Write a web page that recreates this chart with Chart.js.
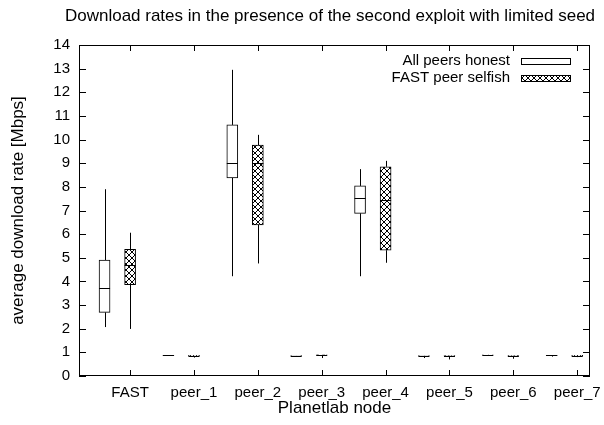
<!DOCTYPE html>
<html>
<head>
<meta charset="utf-8">
<script src="https://cdn.jsdelivr.net/npm/chart.js@4.4.1/dist/chart.umd.min.js"></script>
<style>
body { margin: 0; background: white; }
</style>
</head>
<body>
<canvas id="chart" width="604" height="425"></canvas>
<script>
// nodes on the x axis
const nodes = ['FAST', 'peer_1', 'peer_2', 'peer_3', 'peer_4', 'peer_5', 'peer_6', 'peer_7']

// all peers honest (Mbps)
const honestMin = [2.07, 0.85, 4.22, 0.84, 4.22, 0.76, 0.89, 0.82]
const honestQ1  = [2.69, 0.86, 8.38, 0.85, 6.88, 0.85, 0.89, 0.86]
const honestMed = [3.72, 0.87, 9.00, 0.85, 7.53, 0.86, 0.90, 0.87]
const honestQ3  = [4.90, 0.87, 10.62, 0.86, 8.04, 0.86, 0.90, 0.87]
const honestMax = [7.90, 0.88, 12.95, 0.86, 8.75, 0.87, 0.91, 0.88]

// FAST peer selfish (Mbps)
const selfishMin = [1.99, 0.78, 4.76, 0.76, 4.79, 0.70, 0.73, 0.80]
const selfishQ1  = [3.86, 0.85, 6.39, 0.89, 5.32, 0.85, 0.85, 0.85]
const selfishMed = [4.70, 0.86, 9.03, 0.90, 7.44, 0.86, 0.86, 0.86]
const selfishQ3  = [5.36, 0.87, 9.77, 0.90, 8.85, 0.86, 0.86, 0.87]
const selfishMax = [6.06, 0.88, 10.20, 0.91, 9.10, 0.87, 0.87, 0.88]

const honestShift = -0.4
const selfishShift = 0

const yTicks = [0, 1, 2, 3, 4, 5, 6, 7, 8, 9, 10, 11, 12, 13, 14]

const fontFamily = '"Liberation Sans", Arial, Helvetica, sans-serif'
Chart.defaults.font.family = fontFamily
Chart.defaults.font.size = 15
Chart.defaults.color = 'black'

const canvas = document.querySelector('#chart')
const ctx = canvas.getContext('2d')

// cross hatch fill like gnuplot pattern
function makeHatch() {
    const tile = document.createElement('canvas')
    tile.width = 6
    tile.height = 6
    const g = tile.getContext('2d')
    g.fillStyle = 'white'
    g.fillRect(0, 0, 6, 6)
    g.strokeStyle = 'black'
    g.lineWidth = 1
    g.beginPath()
    g.moveTo(0, 0); g.lineTo(6, 6)
    g.moveTo(6, 0); g.lineTo(0, 6)
    g.stroke()
    return ctx.createPattern(tile, 'repeat')
}
const hatch = makeHatch()

const series = [
    {min: honestMin, q1: honestQ1, med: honestMed, q3: honestQ3, max: honestMax, shift: honestShift},
    {min: selfishMin, q1: selfishQ1, med: selfishMed, q3: selfishQ3, max: selfishMax, shift: selfishShift}
]

const boxWidth = 11

const boxPlugin = {
    id: 'boxExtras',
    beforeDatasetsDraw(chart) {
        // whiskers
        const c = chart.ctx
        const xs = chart.scales.x
        const ys = chart.scales.y
        c.save()
        c.strokeStyle = 'black'
        c.lineWidth = 1
        series.forEach(function (s) {
            nodes.forEach(function (n, i) {
                const x = Math.round(xs.getPixelForValue(i + s.shift)) + 0.5
                c.beginPath()
                c.moveTo(x, ys.getPixelForValue(s.min[i]))
                c.lineTo(x, ys.getPixelForValue(s.q1[i]))
                c.moveTo(x, ys.getPixelForValue(s.q3[i]))
                c.lineTo(x, ys.getPixelForValue(s.max[i]))
                c.stroke()
            })
        })
        c.restore()
    },
    afterDatasetsDraw(chart) {
        // medians
        const c = chart.ctx
        const xs = chart.scales.x
        const ys = chart.scales.y
        c.save()
        c.strokeStyle = 'black'
        c.lineWidth = 1
        series.forEach(function (s) {
            nodes.forEach(function (n, i) {
                const x = xs.getPixelForValue(i + s.shift)
                const y = Math.round(ys.getPixelForValue(s.med[i])) + 0.5
                c.beginPath()
                c.moveTo(x - boxWidth / 2, y)
                c.lineTo(x + boxWidth / 2, y)
                c.stroke()
            })
        })
        c.restore()
    },
    afterDraw(chart) {
        const c = chart.ctx
        const ca = chart.chartArea
        const xs = chart.scales.x
        const ys = chart.scales.y
        c.save()
        c.strokeStyle = 'black'
        c.lineWidth = 1
        // frame
        c.strokeRect(ca.left + 0.5, ca.top + 0.5, ca.right - ca.left - 1, ca.bottom - ca.top - 1)
        // inward ticks on all sides
        c.beginPath()
        yTicks.forEach(function (v) {
            const y = Math.round(ys.getPixelForValue(v)) + 0.5
            c.moveTo(ca.left, y); c.lineTo(ca.left + 7, y)
            c.moveTo(ca.right, y); c.lineTo(ca.right - 7, y)
        })
        nodes.forEach(function (n, i) {
            const x = Math.round(xs.getPixelForValue(i)) + 0.5
            c.moveTo(x, ca.bottom); c.lineTo(x, ca.bottom - 6)
            c.moveTo(x, ca.top); c.lineTo(x, ca.top + 6)
        })
        c.stroke()

        // title
        c.fillStyle = 'black'
        c.font = '17px ' + fontFamily
        c.textAlign = 'center'
        c.textBaseline = 'middle'
        c.fillText('Download rates in the presence of the second exploit with limited seed', 330, 16)

        // legend
        c.font = '15px ' + fontFamily
        c.textAlign = 'right'
        const labels = ['All peers honest', 'FAST peer selfish']
        const fills = ['white', hatch]
        labels.forEach(function (t, k) {
            const y = 61 + k * 17
            c.fillStyle = 'black'
            c.fillText(t, ca.right - 80, y)
            c.fillStyle = fills[k]
            c.fillRect(ca.right - 69, y - 3, 49, 6)
            c.strokeRect(ca.right - 69 + 0.5, y - 3 + 0.5, 49, 6)
        })
        c.restore()
    }
}

const myChart = new Chart(canvas, {
    type: 'bar',
    data: {
        datasets: [{
            label: 'All peers honest',
            data: nodes.map((n, i) => ({x: i + honestShift, y: [honestQ1[i], honestQ3[i]]})),
            backgroundColor: 'white',
            borderColor: 'black',
            borderWidth: 1,
            borderSkipped: false,
            barThickness: boxWidth,
            grouped: false
        }, {
            label: 'FAST peer selfish',
            data: nodes.map((n, i) => ({x: i + selfishShift, y: [selfishQ1[i], selfishQ3[i]]})),
            backgroundColor: hatch,
            borderColor: 'black',
            borderWidth: 1,
            borderSkipped: false,
            barThickness: boxWidth,
            grouped: false
        }]
    },
    options: {
        responsive: false,
        animation: false,
        layout: {padding: {top: 45, right: 14, bottom: 0, left: 0}},
        plugins: {
            legend: {display: false},
            tooltip: {enabled: false}
        },
        scales: {
            x: {
                type: 'linear',
                offset: false,
                min: -0.8,
                max: 7.2,
                grid: {display: false, drawTicks: false, offset: false},
                border: {display: false},
                afterBuildTicks: s => { s.ticks = nodes.map((n, i) => ({value: i})) },
                afterFit: s => {
                    s.height = 49
                    s.paddingLeft = 0
                    s.paddingRight = 0
                },
                ticks: {
                    padding: 8,
                    maxRotation: 0,
                    autoSkip: false,
                    callback: v => nodes[v]
                },
                title: {display: true, text: 'Planetlab node', font: {size: 17}, padding: {top: 0, bottom: 6}}
            },
            y: {
                min: 0,
                max: 14,
                grid: {display: false, drawTicks: false},
                border: {display: false},
                afterFit: s => { s.width = 79 },
                ticks: {stepSize: 1, padding: 9},
                title: {display: true, text: 'average download rate [Mbps]', font: {size: 17}, padding: {top: 8, bottom: 0}}
            }
        }
    },
    plugins: [boxPlugin]
})
</script>
</body>
</html>
